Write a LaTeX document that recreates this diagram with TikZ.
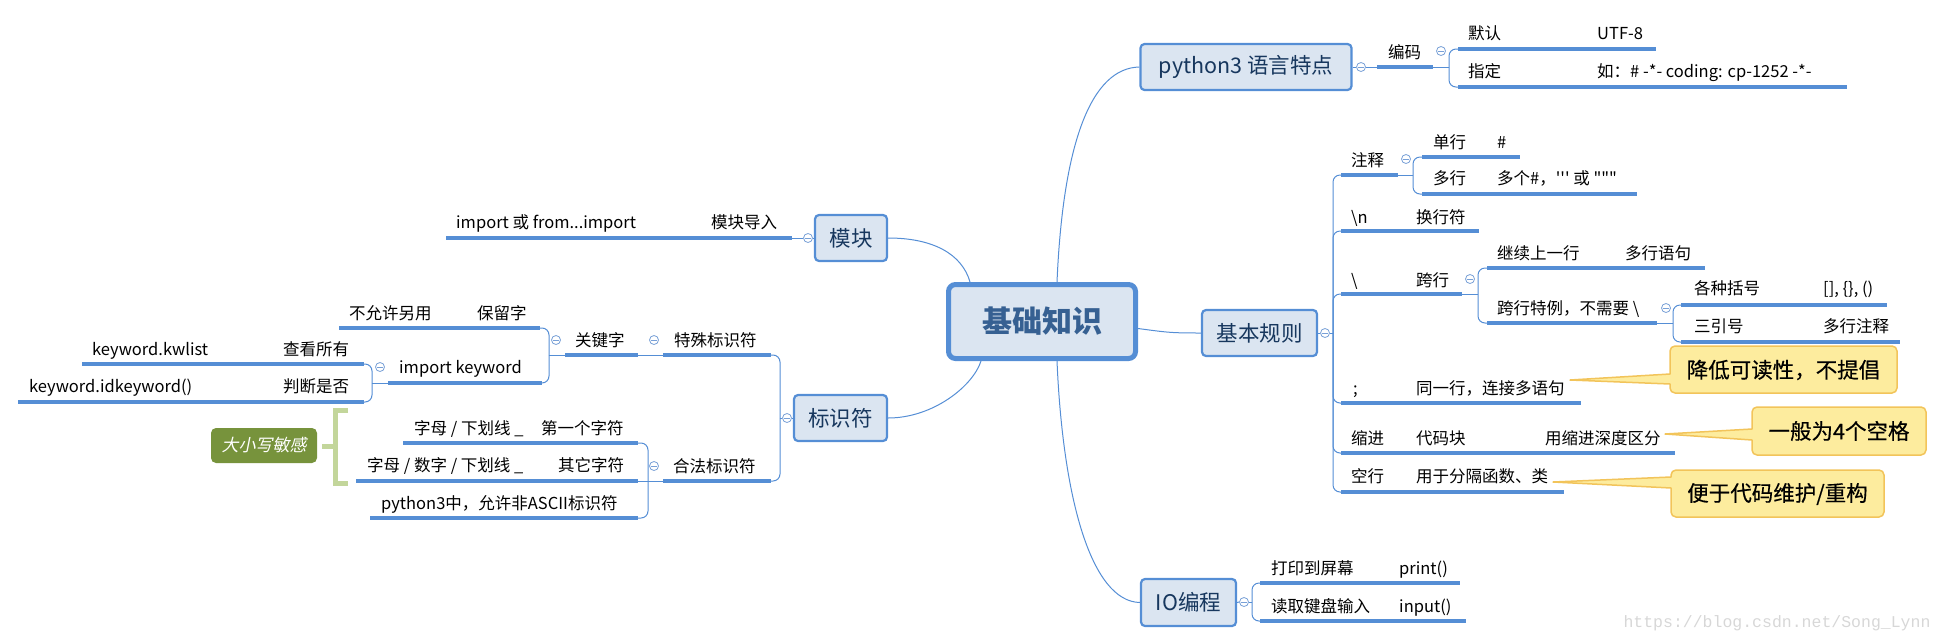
\documentclass[tikz,border=0pt]{standalone}
\usepackage{fontspec}
\setmainfont{Noto Sans CJK SC}[Ligatures=TeXOff]
\newfontfamily\itcjk{Noto Sans CJK SC}[FakeSlant=0.2]
\newfontfamily\cofont{Noto Sans CJK SC}[FakeBold=0.4]
\newfontfamily\wmfont{Liberation Mono}
\usetikzlibrary{calc}
\definecolor{lb}{RGB}{85,142,213}
\definecolor{lc}{RGB}{120,160,215}
\definecolor{tfill}{RGB}{219,229,241}
\definecolor{tdark}{RGB}{23,55,94}
\definecolor{ctext}{RGB}{54,96,146}
\definecolor{cofill}{RGB}{253,236,158}
\definecolor{coedge}{RGB}{242,196,90}
\definecolor{gbox}{RGB}{119,147,60}
\definecolor{gbr}{RGB}{195,214,155}
\definecolor{wm}{RGB}{215,215,215}
\tikzset{
  ul/.style={draw=lb, line width=3.5pt},
  br/.style={draw=lb, line width=1pt, rounded corners=7pt},
  link/.style={draw=lb, line width=1pt},
  lf/.style={anchor=base west, inner sep=0pt, font=\fontsize{16.5}{18}\selectfont, text=black},
  topic/.style={draw=lb, line width=2.2pt, fill=tfill, rounded corners=4pt, inner sep=0pt, text=tdark, font=\fontsize{21.5}{24}\selectfont},
  tog/.style={circle, draw=lc, fill=white, line width=0.8pt, minimum size=9pt, inner sep=0pt,
    path picture={\draw[lc, line width=0.8pt] ($(path picture bounding box.center)+(-2.6,0)$) -- ($(path picture bounding box.center)+(2.6,0)$);}},
  callout/.style={draw=coedge, fill=cofill, line width=1.5pt, line join=round},
  cotext/.style={inner sep=0pt, font=\fontsize{21.5}{24}\cofont, text=black}
}
\begin{document}
\begin{tikzpicture}[x=1pt,y=-1pt]
\useasboundingbox (0,0) rectangle (1943,643);

% ---------- central ----------
\node[draw=lb, line width=5pt, fill=tfill, rounded corners=7pt, minimum width=187pt, minimum height=74pt, inner sep=0pt,
      text=ctext, font=\fontsize{30}{34}\selectfont\bfseries] (c) at (1042,321.5) {基础知识};

% ---------- topics ----------
\node[topic, minimum width=211pt, minimum height=46pt] (py) at (1246,67) {python3 语言特点};
\node[topic, minimum width=115pt, minimum height=46pt] (jb) at (1259.5,333) {基本规则};
\node[topic, minimum width=95pt, minimum height=47pt] (io) at (1188.5,602.5) {IO编程};
\node[topic, minimum width=72pt, minimum height=46pt] (mk) at (851,238) {模块};
\node[topic, minimum width=93pt, minimum height=46pt] (bs) at (840.5,418) {标识符};

% central links
\draw[link] ($(c.north)+(15,0)$) .. controls +(6,-140) and +(-48,1) .. (py.west);
\draw[link] ($(c.south)+(15,0)$) .. controls +(6,140) and +(-48,-1) .. (io.west);
\draw[link] ($(c.east)+(0,7)$) .. controls +(30,4) and +(-30,0) .. (jb.west);
\draw[link] (mk.east) .. controls +(45,0) and +(-8,-28) .. ($(c.north)+(-72,0)$);
\draw[link] (bs.east) .. controls +(45,0) and +(-8,25) .. ($(c.south)+(-61,0)$);

% ---------- python3 ----------
\node[tog] (tpy) at (1361,67) {};
\coordinate (bm-a) at (1377,67); \coordinate (bm-b) at (1433,67); \coordinate (bm-j) at (1449,67);
\coordinate (mr-a) at (1458,49); \coordinate (mr-b) at (1656,49);
\coordinate (zd-a) at (1458,87); \coordinate (zd-b) at (1847,87);
\draw[link] (py.east) -- (tpy.west);
\draw[link] (tpy.east) -- (bm-a);
\draw[ul] (bm-a) -- (bm-b);
\node[lf] (t-bm) at (1388,58) {编码};
\node[tog] (tbm) at (1441,51) {};
\draw[link] (bm-b) -- (bm-j);
\draw[br] (bm-j) |- (mr-a);
\draw[br] (bm-j) |- (zd-a);
\draw[ul] (mr-a) -- (mr-b);
\draw[ul] (zd-a) -- (zd-b);
\node[lf] (t-mr) at (1468,39) {默认};
\node[lf] (t-utf) at (1597,39) {UTF-8};
\node[lf] (t-zd) at (1468,77) {指定};
\node[lf] (t-cd) at (1597,77) {如：\# -*- coding: cp-1252 -*-};

% ---------- 基本规则 ----------
\node[tog] (tjb) at (1325,333) {};
\draw[link] (jb.east) -- (tjb.west);
\coordinate (jb-j) at (1333,333);
\coordinate (zs-a) at (1341,175); \coordinate (zs-b) at (1398,175); \coordinate (zs-j) at (1413,175);
\coordinate (hh-a) at (1341,231); \coordinate (hh-b) at (1479,231);
\coordinate (kh-a) at (1341,294); \coordinate (kh-b) at (1462,294); \coordinate (kh-j) at (1478,294);
\coordinate (fh-a) at (1341,403); \coordinate (fh-b) at (1581,403);
\coordinate (sj-a) at (1341,453); \coordinate (sj-b) at (1675,453);
\coordinate (kx-a) at (1341,492); \coordinate (kx-b) at (1564,492);
\draw[link] (tjb.east) -- (jb-j);
\foreach \n in {zs,hh,kh,fh,sj,kx} { \draw[br] (jb-j) |- (\n-a); \draw[ul] (\n-a) -- (\n-b); }

% 注释
\node[lf] (t-zs) at (1351,166) {注释};
\node[tog] (tzs) at (1406,159) {};
\coordinate (dh-a) at (1422,157); \coordinate (dh-b) at (1520,157);
\coordinate (dd-a) at (1422,194); \coordinate (dd-b) at (1637,194);
\draw[link] (zs-b) -- (zs-j);
\draw[br] (zs-j) |- (dh-a); \draw[br] (zs-j) |- (dd-a);
\draw[ul] (dh-a) -- (dh-b); \draw[ul] (dd-a) -- (dd-b);
\node[lf] (t-dh) at (1433,148) {单行};
\node[lf] (t-dh2) at (1497,148) {\#};
\node[lf] (t-dd) at (1433,184) {多行};
\node[lf] (t-dd2) at (1497,184) {多个\#，''' 或 """};

% \n
\node[lf] (t-hh) at (1351,223) {\textbackslash n};
\node[lf] (t-hh2) at (1416,223) {换行符};

% 跨行
\node[lf] (t-kh) at (1351,286) {\textbackslash};
\node[lf] (t-kh2) at (1416,286) {跨行};
\node[tog] (tkh) at (1470,279) {};
\coordinate (jx-a) at (1487,268); \coordinate (jx-b) at (1705,268);
\coordinate (tl-a) at (1487,323); \coordinate (tl-b) at (1657,323); \coordinate (tl-j) at (1673,323);
\draw[link] (kh-b) -- (kh-j);
\draw[br] (kh-j) |- (jx-a); \draw[br] (kh-j) |- (tl-a);
\draw[ul] (jx-a) -- (jx-b); \draw[ul] (tl-a) -- (tl-b);
\node[lf] (t-jx) at (1497,259) {继续上一行};
\node[lf] (t-jx2) at (1625,259) {多行语句};
\node[lf] (t-tl) at (1497,314) {跨行特例，不需要 \textbackslash};
\node[tog] (ttl) at (1666,308) {};
\coordinate (gz-a) at (1681,305); \coordinate (gz-b) at (1887,305);
\coordinate (sy-a) at (1681,342); \coordinate (sy-b) at (1900,342);
\draw[link] (tl-b) -- (tl-j);
\draw[br] (tl-j) |- (gz-a); \draw[br] (tl-j) |- (sy-a);
\draw[ul] (gz-a) -- (gz-b); \draw[ul] (sy-a) -- (sy-b);
\node[lf] (t-gz) at (1694,294) {各种括号};
\node[lf] (t-gz2) at (1823,294) {[], \{\}, ()};
\node[lf] (t-sy) at (1694,332) {三引号};
\node[lf] (t-sy2) at (1823,332) {多行注释};

% ; 缩进 空行
\node[lf] (t-fh) at (1353,394) {;};
\node[lf] (t-fh2) at (1416,394) {同一行，连接多语句};
\node[lf] (t-sj) at (1351,444) {缩进};
\node[lf] (t-sj2) at (1416,444) {代码块};
\node[lf] (t-sj3) at (1545,444) {用缩进深度区分};
\node[lf] (t-kx) at (1351,482) {空行};
\node[lf] (t-kx2) at (1416,482) {用于分隔函数、类};

% callouts
\coordinate (p1) at (1570,380);
\draw[callout] (p1) -- (1670,384) [rounded corners=5pt] -- (1670,393) -- (1897,393) -- (1897,346) -- (1670,346) [sharp corners] -- (1670,374) -- cycle;
\node[cotext] (co1) at (1783.5,370) {降低可读性，不提倡};
\coordinate (p2) at (1665,434);
\draw[callout] (p2) -- (1752,440) [rounded corners=5pt] -- (1752,455) -- (1926,455) -- (1926,407) -- (1752,407) [sharp corners] -- (1752,429) -- cycle;
\node[cotext] (co2) at (1839,431) {一般为4个空格};
\coordinate (p3) at (1553,482);
\draw[callout] (p3) -- (1671,488) [rounded corners=5pt] -- (1671,517) -- (1884,517) -- (1884,470) -- (1671,470) [sharp corners] -- (1671,477) -- cycle;
\node[cotext] (co3) at (1777.5,494) {便于代码维护/重构};

% ---------- IO ----------
\node[tog] (tio) at (1244,602) {};
\draw[link] (io.east) -- (tio.west);
\coordinate (io-j) at (1252,602);
\coordinate (dy-a) at (1260,583); \coordinate (dy-b) at (1460,583);
\coordinate (dq-a) at (1260,621); \coordinate (dq-b) at (1466,621);
\draw[link] (tio.east) -- (io-j);
\draw[br] (io-j) |- (dy-a); \draw[br] (io-j) |- (dq-a);
\draw[ul] (dy-a) -- (dy-b); \draw[ul] (dq-a) -- (dq-b);
\node[lf] (t-dy) at (1271,574) {打印到屏幕};
\node[lf] (t-dy2) at (1399,574) {print()};
\node[lf] (t-dq) at (1271,612) {读取键盘输入};
\node[lf] (t-dq2) at (1399,612) {input()};

% ---------- 模块 ----------
\node[tog] (tmk) at (808,238) {};
\coordinate (dr-a) at (446,238); \coordinate (dr-b) at (792,238);
\draw[link] (mk.west) -- (tmk.east);
\draw[link] (tmk.west) -- (dr-b);
\draw[ul] (dr-a) -- (dr-b);
\node[lf] (t-dr) at (456,228) {import 或 from...import};
\node[lf] (t-dr2) at (711,228) {模块导入};

% ---------- 标识符 ----------
\node[tog] (tbs) at (787,418) {};
\draw[link] (bs.west) -- (tbs.east);
\coordinate (bs-j) at (780,418);
\coordinate (ts-a) at (663,355); \coordinate (ts-b) at (771,355);
\coordinate (hf-a) at (663,481); \coordinate (hf-b) at (771,481);
\draw[link] (tbs.west) -- (bs-j);
\draw[br] (bs-j) |- (ts-b); \draw[br] (bs-j) |- (hf-b);
\draw[ul] (ts-a) -- (ts-b); \draw[ul] (hf-a) -- (hf-b);
\node[lf] (t-ts) at (674,346) {特殊标识符};
\node[tog] (tts) at (654,340) {};
\node[lf] (t-hf) at (673,472) {合法标识符};
\node[tog] (thf) at (654,466) {};

% 关键字
\coordinate (gj-a) at (565,355); \coordinate (gj-b) at (638,355); \coordinate (gj-j) at (549,355);
\draw[link] (ts-a) -- (gj-b);
\draw[ul] (gj-a) -- (gj-b);
\node[lf] (t-gj) at (575,346) {关键字};
\node[tog] (tgj) at (556,340) {};
\coordinate (bl-a) at (339,328); \coordinate (bl-b) at (540,328);
\coordinate (ik-a) at (388,383); \coordinate (ik-b) at (542,383); \coordinate (ik-j) at (372,383);
\draw[link] (gj-a) -- (gj-j);
\draw[br] (gj-j) |- (bl-b); \draw[br] (gj-j) |- (ik-b);
\draw[ul] (bl-a) -- (bl-b); \draw[ul] (ik-a) -- (ik-b);
\node[lf] (t-bl) at (349,319) {不允许另用};
\node[lf] (t-bl2) at (477,319) {保留字};
\node[lf] (t-ik) at (399,373) {import keyword};
\node[tog] (tik) at (380,367) {};
\coordinate (ck-a) at (82,364); \coordinate (ck-b) at (364,364);
\coordinate (pd-a) at (18,402); \coordinate (pd-b) at (364,402);
\draw[link] (ik-a) -- (ik-j);
\draw[br] (ik-j) |- (ck-b); \draw[br] (ik-j) |- (pd-b);
\draw[ul] (ck-a) -- (ck-b); \draw[ul] (pd-a) -- (pd-b);
\node[lf] (t-ck) at (92,355) {keyword.kwlist};
\node[lf] (t-ck2) at (283,355) {查看所有};
\node[lf] (t-pd) at (29,392) {keyword.idkeyword()};
\node[lf] (t-pd2) at (283,392) {判断是否};

% 合法标识符 children
\coordinate (hf-j) at (648,481);
\coordinate (c1-a) at (403,443); \coordinate (c1-b) at (638,443);
\coordinate (c2-a) at (356,481); \coordinate (c2-b) at (638,481);
\coordinate (c3-a) at (370,518); \coordinate (c3-b) at (638,518);
\draw[link] (hf-a) -- (hf-j);
\draw[br] (hf-j) |- (c1-b); \draw[link] (hf-j) -- (c2-b); \draw[br] (hf-j) |- (c3-b);
\draw[ul] (c1-a) -- (c1-b); \draw[ul] (c2-a) -- (c2-b); \draw[ul] (c3-a) -- (c3-b);
\node[lf] (t-c1) at (414,434) {字母 / 下划线 \_};
\node[lf] (t-c12) at (541,434) {第一个字符};
\node[lf] (t-c2) at (367,471) {字母 / 数字 / 下划线 \_};
\node[lf] (t-c22) at (558,471) {其它字符};
\node[lf] (t-c3) at (381,509) {python3中，允许非ASCII标识符};

% 大小写敏感
\node[fill=gbox, rounded corners=5pt, minimum width=106pt, minimum height=35pt, inner sep=0pt,
      text=white, font=\fontsize{17}{20}\selectfont\itcjk] (dx) at (264,445.5) {大小写敏感};
\coordinate (dx-m) at (335,446);
\draw[gbr, line width=5pt] ($(dx.east)+(5,0.5)$) -- (dx-m);
\draw[gbr, line width=5pt] (348,410) -- (335,410) -- (335,483) -- (348,483);

% watermark
\node[inner sep=0pt, text=wm, font=\fontsize{16.5}{18}\wmfont] (wmk) at (1777,623) {https://blog.csdn.net/Song\_Lynn};
\end{tikzpicture}
\end{document}
